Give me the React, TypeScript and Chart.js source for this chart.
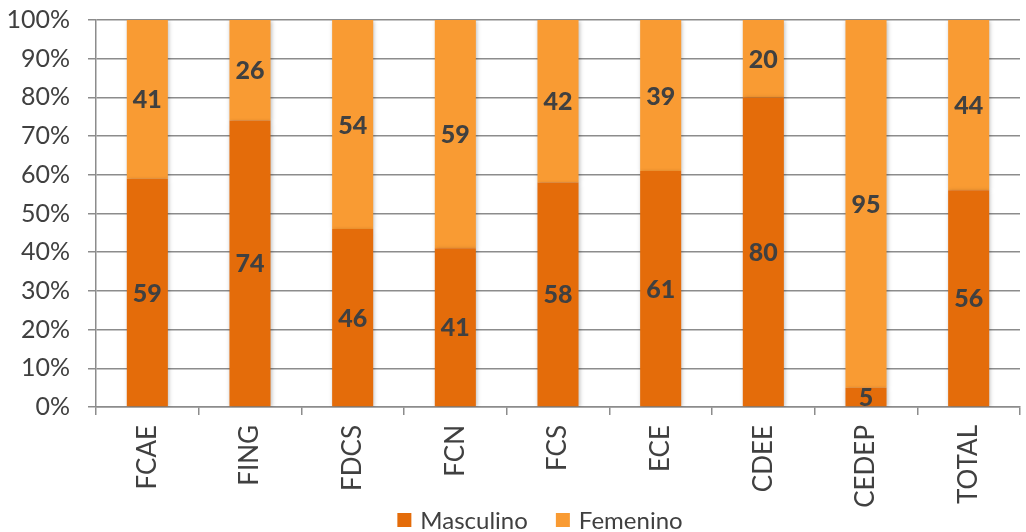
import React, { useEffect, useRef } from "react";
import { Chart, registerables } from "chart.js";

Chart.register(...registerables);

const categories = ["FCAE", "FING", "FDCS", "FCN", "FCS", "ECE", "CDEE", "CEDEP", "TOTAL"];
const masculino = [59, 74, 46, 41, 58, 61, 80, 5, 56];
const femenino = [41, 26, 54, 59, 42, 39, 20, 95, 44];
const seriesNames = ["Masculino", "Femenino"];
const colors = ["#E46C0A", "#F99B33"];

const FONT = "Lato, 'Open Sans', sans-serif";

const labelPlugin = {
  id: "segLabels",
  afterDatasetsDraw(chart: any) {
    const ctx = chart.ctx;
    ctx.save();
    ctx.font = `900 25px ${FONT}`;
    ctx.fillStyle = "#404040";
    ctx.textAlign = "center";
    ctx.textBaseline = "middle";
    chart.data.datasets.forEach((ds: any, di: number) => {
      const meta = chart.getDatasetMeta(di);
      meta.data.forEach((bar: any, i: number) => {
        const v = ds.data[i];
        const cy = (bar.y + bar.base) / 2;
        ctx.fillText(String(v), bar.x, cy + 1);
      });
    });
    ctx.restore();
  },
};

const shadowPlugin = {
  id: "barShadow",
  beforeDatasetsDraw(chart: any) {
    const ctx = chart.ctx;
    ctx.save();
    ctx.shadowColor = "rgba(0,0,0,0.25)";
    ctx.shadowBlur = 4;
    ctx.shadowOffsetX = 1;
    ctx.shadowOffsetY = 1;
  },
  afterDatasetsDraw(chart: any) {
    chart.ctx.restore();
  },
};

const legendPlugin = {
  id: "customLegend",
  afterDraw(chart: any) {
    const ctx = chart.ctx;
    ctx.save();
    ctx.font = `24px ${FONT}`;
    ctx.textBaseline = "middle";
    ctx.textAlign = "left";
    const box = 14;
    const gap = 9;
    const itemGap = 28;
    const widths = seriesNames.map((n) => box + gap + ctx.measureText(n).width);
    const total = widths.reduce((a, b) => a + b, 0) + itemGap * (seriesNames.length - 1);
    let x = chart.width / 2 + 27 - total / 2;
    const cy = chart.height - 12;
    seriesNames.forEach((n, i) => {
      ctx.fillStyle = colors[i];
      ctx.fillRect(x, cy - box / 2, box, box);
      ctx.fillStyle = "#404040";
      ctx.fillText(n, x + box + gap, cy + 1);
      x += widths[i] + itemGap;
    });
    ctx.restore();
  },
};

export default function App() {
  const ref = useRef<HTMLCanvasElement>(null);
  useEffect(() => {
    const chart = new Chart(ref.current!, {
      type: "bar",
      data: {
        labels: categories,
        datasets: [
          { label: seriesNames[0], data: masculino, backgroundColor: colors[0] },
          { label: seriesNames[1], data: femenino, backgroundColor: colors[1] },
        ],
      },
      options: {
        animation: false,
        responsive: true,
        maintainAspectRatio: false,
        layout: { padding: { top: 0, right: 6, left: 0, bottom: 22 } },
        datasets: { bar: { categoryPercentage: 1, barPercentage: 0.4 } },
        scales: {
          x: {
            stacked: true,
            afterFit: (s: any) => { s.height = 103; },
            grid: { display: true, drawOnChartArea: false, drawTicks: true, tickLength: 8, color: "#8C8C8C", lineWidth: 1.5 },
            border: { color: "#8C8C8C", width: 1.5 },
            ticks: { color: "#404040", font: { family: FONT, size: 26 }, maxRotation: 90, minRotation: 90, padding: 10 },
          },
          y: {
            stacked: true,
            min: 0,
            max: 100,
            afterFit: (s: any) => { s.width = 96; s.paddingTop = 20; s.paddingBottom = 0; },
            grid: { color: "#8C8C8C", lineWidth: 1.5, tickLength: 8 },
            border: { color: "#8C8C8C", width: 1.5 },
            ticks: {
              stepSize: 10,
              color: "#404040",
              font: { family: FONT, size: 25 },
              padding: 18,
              callback: (v: any) => v + "%",
            },
          },
        },
        plugins: {
          legend: { display: false },
          tooltip: { enabled: false },
        },
      },
      plugins: [shadowPlugin, labelPlugin, legendPlugin],
    });
    return () => chart.destroy();
  }, []);
  return (
    <div style={{ position: "fixed", left: 0, top: 0, width: 1026, height: 532, background: "#fff" }}>
      <canvas ref={ref} />
    </div>
  );
}
